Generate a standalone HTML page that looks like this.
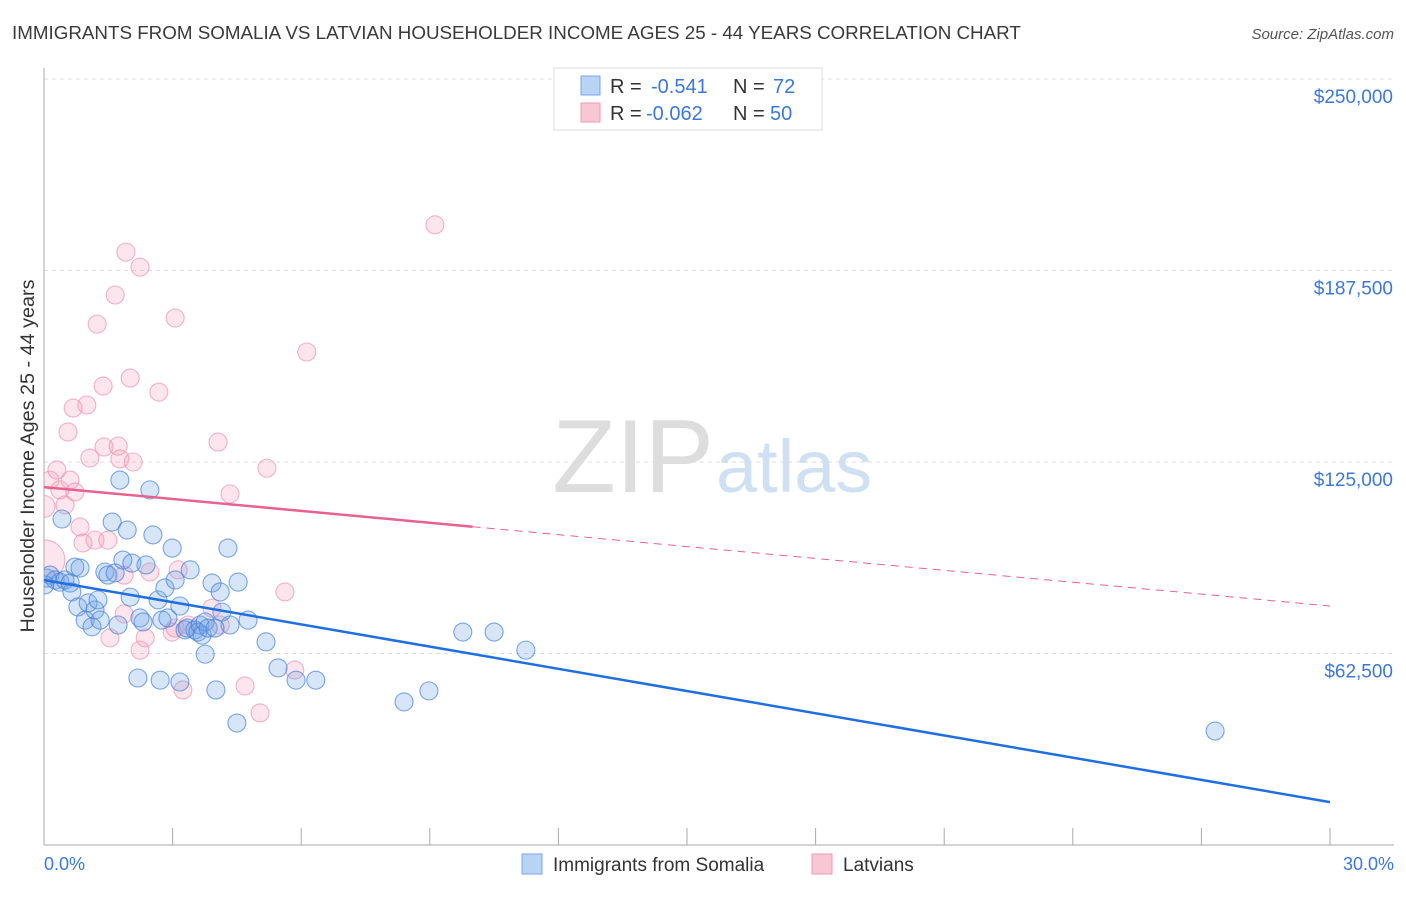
<!DOCTYPE html>
<html><head><meta charset="utf-8"><style>
body{margin:0;background:#fff;font-family:"Liberation Sans",sans-serif;}
svg text{font-family:"Liberation Sans",sans-serif;}
</style></head><body>
<svg id="chart" width="1406" height="892" viewBox="0 0 1406 892">
<defs><clipPath id="plotclip"><rect x="44" y="60" width="1360" height="785"/></clipPath></defs>
<text x="12" y="39" font-size="18.8" fill="#3a3a3a">IMMIGRANTS FROM SOMALIA VS LATVIAN HOUSEHOLDER INCOME AGES 25 - 44 YEARS CORRELATION CHART</text>
<text x="1394" y="39" font-size="15" fill="#555" text-anchor="end" font-style="italic">Source: ZipAtlas.com</text>
<g id="grid"></g>
<text x="714" y="492" font-size="104" text-anchor="end" fill="#ddd" font-family="Liberation Serif">ZIP</text>
<text x="716" y="492" font-size="74" fill="#cfe0f3">atlas</text>
<g id="pts" clip-path="url(#plotclip)"></g>
<g id="lines"></g>
<text transform="translate(34,456) rotate(-90)" font-size="19.8" fill="#333" text-anchor="middle">Householder Income Ages 25 - 44 years</text>
<text x="44" y="870" font-size="18" fill="#3b78d8">0.0%</text>
<text x="1394" y="870" font-size="18" fill="#3b78d8" text-anchor="end">30.0%</text>
<g>
<rect x="554" y="68" width="268" height="62" fill="#fff" stroke="#ddd"/>
<rect x="581" y="76" width="19" height="19" fill="#b9d3f5" stroke="#7aa6e6"/>
<rect x="581" y="103" width="19" height="19" fill="#f9c6d6" stroke="#ee9ab5"/>
<text x="610" y="93" font-size="20" fill="#333">R = </text><text x="651" y="93" font-size="20" fill="#3b78d8">-0.541</text>
<text x="733" y="93" font-size="20" fill="#333">N = </text><text x="773" y="93" font-size="20" fill="#3b78d8">72</text>
<text x="610" y="120" font-size="20" fill="#333">R = </text><text x="646" y="120" font-size="20" fill="#3b78d8">-0.062</text>
<text x="733" y="120" font-size="20" fill="#333">N = </text><text x="770" y="120" font-size="20" fill="#3b78d8">50</text>
</g>
<g>
<rect x="522" y="854" width="20" height="20" fill="#b9d3f5" stroke="#7aa6e6"/>
<text x="553" y="871" font-size="19" fill="#333">Immigrants from Somalia</text>
<rect x="812" y="854" width="20" height="20" fill="#f9c6d6" stroke="#ee9ab5"/>
<text x="843" y="871" font-size="19" fill="#333">Latvians</text>
</g>
</svg>
<script>
const yTicks=[62500,125000,187500,250000];
const yTickLabels=["$62,500","$125,000","$187,500","$250,000"];
const blueX=[0.07,0.14,0.26,0.37,0.49,0.61,0.72,0.84,0.02,0.42,0.65,0.79,0.96,1.03,1.12,1.19,1.26,1.31,1.42,1.49,1.59,1.66,1.73,1.77,1.84,1.94,2.01,2.05,2.19,2.24,2.31,2.38,2.47,2.54,2.66,2.75,2.82,2.89,2.99,3.06,3.17,3.29,3.34,3.41,3.52,3.59,3.64,3.69,3.76,3.83,3.92,4.01,4.11,4.15,4.29,4.34,4.50,4.53,4.76,5.18,5.46,5.88,6.34,2.71,3.17,8.40,8.98,9.77,10.50,11.24,27.32,3.76,3.99];
const blueY=[87.1,88.1,86.5,85.8,86.5,85.5,90.7,90.4,84.9,106.4,82.6,77.7,73.4,79.0,71.2,76.7,80.0,73.4,89.1,88.1,105.4,88.8,71.8,119.1,93.0,102.8,80.9,92.0,54.5,74.1,72.8,91.4,115.9,101.2,80.0,73.4,83.9,74.1,96.9,86.5,78.0,70.2,70.8,89.8,70.2,69.5,71.8,68.5,72.8,70.8,85.5,50.6,82.6,76.0,96.9,71.8,39.8,85.8,73.4,66.3,57.8,53.8,53.8,53.8,53.2,46.7,50.3,69.5,69.5,63.6,37.2,62.3,70.8];
const pinkX=[0.02,0.0,0.14,0.30,0.37,0.49,0.61,0.72,0.84,0.91,0.56,0.68,1.00,1.07,1.19,1.24,1.38,1.40,1.49,1.54,1.66,1.73,1.77,1.87,1.91,2.01,2.08,2.24,2.36,2.47,2.68,2.99,3.06,3.13,3.24,3.36,3.92,4.06,4.11,4.34,4.69,5.04,5.20,5.62,5.85,6.13,9.12,3.06,1.87,2.24];
const pinkY=[93.0,110.5,119.1,122.4,115.9,111.0,119.1,115.2,103.8,98.6,134.8,142.6,143.6,126.3,99.5,170.0,149.8,129.9,99.5,67.6,179.5,130.2,126.0,75.4,193.5,152.4,125.0,188.6,67.6,89.1,147.8,69.5,172.0,89.8,50.6,71.8,77.3,131.5,71.8,114.6,51.9,43.1,123.0,82.6,57.1,160.9,202.4,70.8,88.1,63.6];
const pinkR=[20,11,9,9,9,9,9,9,9,9,9,9,9,9,9,9,9,9,9,9,9,9,9,9,9,9,9,9,9,9,9,9,9,9,9,9,9,9,9,9,9,9,9,9,9,9,9,9,9,9];
const blueFit=[86.5,14.0];
const pinkFit=[116.8,78.0];
const pinkSolidEnd=10.0;
const X=p=>44+p/30*1286;
const Y=v=>845-v/250000*766;
const ns="http://www.w3.org/2000/svg";
function mk(t,a,parent){const e=document.createElementNS(ns,t);for(const k in a)e.setAttribute(k,a[k]);parent.appendChild(e);return e;}
const grid=document.getElementById('grid');
yTicks.forEach((v,i)=>{
 const l=mk('line',{x1:44,x2:1394,y1:Y(v),y2:Y(v),stroke:'#ddd','stroke-dasharray':'4,4'},grid);
 
 
 const t=mk('text',{x:1393,y:Y(v)+24,'font-size':19,fill:'#3b78d8','text-anchor':'end'},grid);
 t.textContent=yTickLabels[i];
 
 
});
const ax=mk('line',{x1:44,x2:44,y1:68,y2:845,stroke:'#aaa'},grid);


const bx=mk('line',{x1:44,x2:1394,y1:845,y2:845,stroke:'#aaa'},grid);


for(let i=0;i<=10;i++){const t=mk('line',{x1:X(i*3),x2:X(i*3),y1:828,y2:845,stroke:'#aaa'},grid);
 
 }
const pts=document.getElementById('pts');
pinkX.forEach((x,i)=>{const c=mk('circle',{cx:X(x),cy:Y(pinkY[i]*1000),r:pinkR[i],fill:'rgba(244,160,188,0.28)',stroke:'rgba(236,140,172,0.65)','stroke-width':1.1},pts);
 
 });
blueX.forEach((x,i)=>{const c=mk('circle',{cx:X(x),cy:Y(blueY[i]*1000),r:9,fill:'rgba(110,160,230,0.28)',stroke:'rgba(70,130,220,0.7)','stroke-width':1.1},pts);
 
 });
const lines=document.getElementById('lines');
const pAt=x=>pinkFit[0]+(pinkFit[1]-pinkFit[0])*x/30;
const b=mk('line',{x1:X(0),y1:Y(blueFit[0]*1000),x2:X(30),y2:Y(blueFit[1]*1000),stroke:'#1f6fe0','stroke-width':2.5},lines);


const p1=mk('line',{x1:X(0),y1:Y(pinkFit[0]*1000),x2:X(pinkSolidEnd),y2:Y(pAt(pinkSolidEnd)*1000),stroke:'#e8628e','stroke-width':2.5},lines);


const p2=mk('line',{x1:X(pinkSolidEnd),y1:Y(pAt(pinkSolidEnd)*1000),x2:X(30),y2:Y(pinkFit[1]*1000),stroke:'#e8628e','stroke-width':1,'stroke-dasharray':'8,6'},lines);


</script>
</body></html>
